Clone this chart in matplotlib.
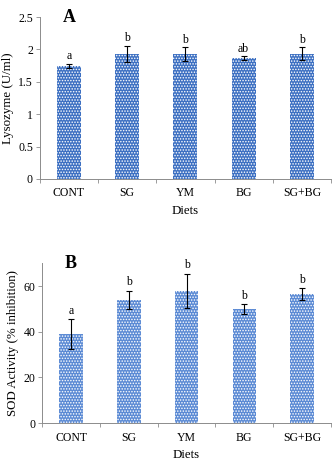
import numpy as np
import matplotlib
matplotlib.use("Agg")
import matplotlib.pyplot as plt

plt.rcParams['font.family'] = ['Liberation Serif', 'DejaVu Serif']
plt.rcParams['hatch.linewidth'] = 0.7

# Data
diets = ["CONT", "SG", "YM", "BG", "SG+BG"]
lysozyme = [1.75, 1.93, 1.93, 1.87, 1.93]
lysozyme_err = [0.03, 0.13, 0.11, 0.03, 0.10]
lysozyme_letters = ["a", "b", "b", "ab", "b"]
sod = [39.0, 54.0, 58.0, 50.0, 56.5]
sod_err = [6.5, 4.0, 7.5, 2.0, 2.5]
sod_letters = ["a", "b", "b", "b", "b"]

AXIS_COLOR = "#8c8c8c"
FS_TICK = 8.5
FS_LABEL = 9.3


def draw_panel(ax, values, errs, letters, ylim, yticks, yticklabels, ylabel,
               panel, pad, color):
    x = np.arange(len(diets))
    ax.bar(x, values, width=0.41, color=color, edgecolor="white",
           linewidth=0, hatch="......", zorder=2)
    ax.errorbar(x, values, yerr=errs, fmt="none", ecolor="black",
                elinewidth=0.8, capsize=2, capthick=0.8, zorder=3)
    for xi, v, e, lab in zip(x, values, errs, letters):
        ax.text(xi, v + e + pad, lab, ha="center", va="bottom", fontsize=FS_TICK)

    ax.set_xlim(-0.5, len(diets) - 0.5)
    ax.set_ylim(*ylim)
    ax.set_yticks(yticks)
    ax.set_yticklabels(yticklabels, fontsize=FS_TICK)
    ax.set_xticks(x)
    ax.set_xticklabels(diets, fontsize=FS_TICK)
    ax.set_xticks(np.arange(len(diets) + 1) - 0.5, minor=True)
    ax.tick_params(axis="x", which="major", length=0, pad=6)
    ax.tick_params(axis="x", which="minor", length=3, color=AXIS_COLOR, width=0.6)
    ax.tick_params(axis="y", length=3, color=AXIS_COLOR, width=0.6, pad=2)

    for s in ["top", "right"]:
        ax.spines[s].set_visible(False)
    for s in ["left", "bottom"]:
        ax.spines[s].set_color(AXIS_COLOR)
        ax.spines[s].set_linewidth(0.7)

    ax.set_xlabel("Diets", fontsize=FS_LABEL, labelpad=4)
    ax.set_ylabel(ylabel, fontsize=FS_LABEL, labelpad=3)
    ax.text(0.1, 1.0, panel, transform=ax.transAxes, fontsize=13,
            fontweight="bold", ha="center", va="center")


fig = plt.figure(figsize=(3.32, 4.61), dpi=100)

ax_a = fig.add_axes([0.120, 0.612, 0.877, 0.351])
draw_panel(ax_a, lysozyme, lysozyme_err, lysozyme_letters, (0, 2.5),
           [0, 0.5, 1, 1.5, 2, 2.5], ["0", "0.5", "1", "1.5", "2", "2.5"],
           "Lysozyme (U/ml)", "A", 0.02, "#3d70c2")

ax_b = fig.add_axes([0.127, 0.082, 0.870, 0.347])
draw_panel(ax_b, sod, sod_err, sod_letters, (0, 70),
           [0, 20, 40, 60], ["0", "20", "40", "60"],
           "SOD Activity (% inhibition)", "B", 1.0, "#5b8ad4")

fig.savefig("out.png", dpi=100)
